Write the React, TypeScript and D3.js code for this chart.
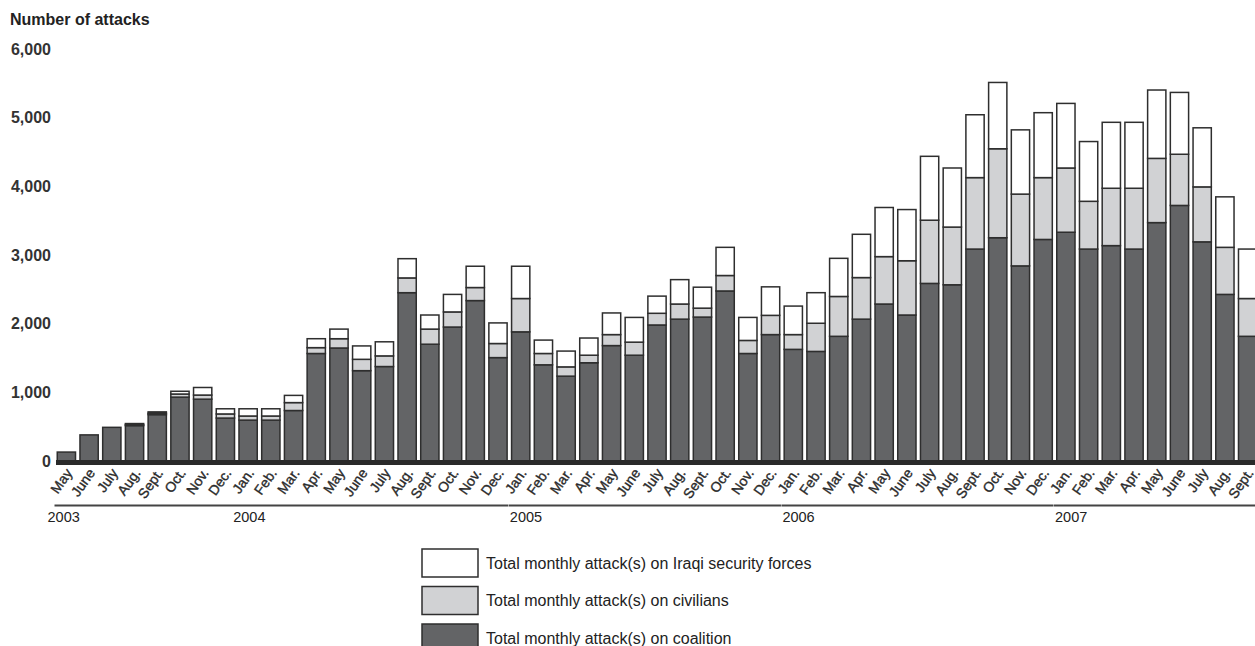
import React from "react";
import * as d3 from "d3";

const months = [
  "May", "June", "July", "Aug.", "Sept.", "Oct.", "Nov.", "Dec.",
  "Jan.", "Feb.", "Mar.", "Apr.", "May", "June", "July", "Aug.", "Sept.", "Oct.", "Nov.", "Dec.",
  "Jan.", "Feb.", "Mar.", "Apr.", "May", "June", "July", "Aug.", "Sept.", "Oct.", "Nov.", "Dec.",
  "Jan.", "Feb.", "Mar.", "Apr.", "May", "June", "July", "Aug.", "Sept.", "Oct.", "Nov.", "Dec.",
  "Jan.", "Feb.", "Mar.", "Apr.", "May", "June", "July", "Aug.", "Sept.",
];

const coalition = [
  130, 380, 490, 515, 675, 930, 900, 625,
  595, 595, 735, 1565, 1645, 1315, 1375, 2450, 1700, 1950, 2335, 1505,
  1880, 1400, 1235, 1430, 1680, 1540, 1980, 2065, 2095, 2475, 1565, 1840,
  1625, 1595, 1815, 2065, 2285, 2125, 2585, 2565, 3085, 3250, 2840, 3225,
  3330, 3085, 3135, 3085, 3470, 3720, 3190, 2425, 1815,
];

const civilians = [
  0, 0, 0, 15, 20, 45, 60, 60,
  60, 60, 115, 85, 135, 165, 155, 215, 220, 220, 190, 205,
  485, 165, 135, 110, 160, 190, 170, 220, 130, 225, 190, 280,
  215, 410, 580, 605, 690, 790, 920, 840, 1040, 1295, 1045, 900,
  935, 695, 835, 885, 935, 745, 800, 685, 550,
];

const security = [
  0, 0, 0, 15, 20, 40, 110, 75,
  105, 105, 105, 130, 140, 195, 205, 280, 205, 255, 310, 300,
  470, 195, 230, 250, 315, 360, 250, 355, 305, 410, 335, 415,
  415, 445, 555, 630, 715, 745, 930, 860, 915, 965, 935, 945,
  940, 870, 960, 960, 995, 900, 860, 735, 720,
];

const yearLabels = ["2003", "2004", "2005", "2006", "2007"];
const yearStart = [0, 8, 20, 32, 44];
// line segments (first index, last index)
const yearSegments = [[0, 19], [20, 31], [32, 43], [44, 52]];

const yTicks = [0, 1000, 2000, 3000, 4000, 5000, 6000];

const seriesKeys = ["coalition", "civilians", "security"];
const seriesLabels = [
  "Total monthly attack(s) on Iraqi security forces",
  "Total monthly attack(s) on civilians",
  "Total monthly attack(s) on coalition",
];

const COLORS: Record<string, string> = {
  coalition: "#636466",
  civilians: "#d1d2d4",
  security: "#ffffff",
};
const STROKE = "#2e2e2e";
const FONT = "'Liberation Sans', Arial, Helvetica, sans-serif";

export default function App() {
  const W = 1255;
  const H = 646;
  const idx = months.map((_, i) => i);
  const x = d3.scaleBand<number>().domain(idx).range([56.5, 1257.5]).paddingInner(0.13).paddingOuter(0);
  const y = d3.scaleLinear().domain([0, 6000]).range([461, 48.8]);

  const table = idx.map((i) => ({
    i,
    coalition: coalition[i],
    civilians: civilians[i],
    security: security[i],
  }));
  const stacked = d3.stack<any>().keys(seriesKeys)(table);

  const bw = x.bandwidth();

  return (
    <svg
      width={W}
      height={H}
      style={{ position: "absolute", left: 0, top: 0, display: "block", background: "#fff" }}
      fontFamily={FONT}
    >
      <text x={10} y={25} fontSize={16} fontWeight="bold" fill="#222">
        Number of attacks
      </text>

      {yTicks.map((t) => (
        <text
          key={t}
          x={51}
          y={y(t)}
          dy="0.36em"
          textAnchor="end"
          fontSize={16}
          fontWeight="bold"
          fill="#333"
        >
          {d3.format(",")(t)}
        </text>
      ))}

      {stacked.map((s) => (
        <g key={s.key}>
          {s.map((d: any, j: number) => {
            const h = y(d[0]) - y(d[1]);
            if (h <= 0) return null;
            return (
              <rect
                key={j}
                x={(x(j) as number) + 0.75}
                y={y(d[1])}
                width={bw - 1.5}
                height={h}
                fill={COLORS[s.key]}
                stroke={STROKE}
                strokeWidth={1.5}
              />
            );
          })}
        </g>
      ))}

      <rect x={56} y={460} width={W - 56} height={5} fill="#2a2a2a" />

      {months.map((m, i) => {
        const cx = (x(i) as number) + bw / 2 - 0.5;
        return (
          <text
            key={i}
            transform={`translate(${cx},${468}) rotate(-55)`}
            textAnchor="end"
            dy="0.62em"
            fontSize={14}
            fill="#2a2a2a"
            stroke="#2a2a2a"
            strokeWidth={0.35}
          >
            {m}
          </text>
        );
      })}

      {yearSegments.map(([a, b], k) => (
        <line
          key={k}
          x1={(x(a) as number) - 2}
          x2={Math.min((x(b) as number) + bw + 0.5, W)}
          y1={505.5}
          y2={505.5}
          stroke="#444"
          strokeWidth={2}
        />
      ))}

      {yearLabels.map((yl, k) => (
        <text
          key={yl}
          x={(x(yearStart[k]) as number) - (k === 0 ? 9 : k === 1 ? 5 : 1)}
          y={522}
          fontSize={14.5}
          fill="#222"
        >
          {yl}
        </text>
      ))}

      {seriesLabels.map((lab, k) => {
        const key = ["security", "civilians", "coalition"][k];
        const top = 549 + k * 37.5;
        return (
          <g key={lab}>
            <rect x={422} y={top} width={56} height={28} fill={COLORS[key]} stroke={STROKE} strokeWidth={1.5} />
            <text x={486} y={top + 14} dy="0.35em" fontSize={16} fill="#222">
              {lab}
            </text>
          </g>
        );
      })}
    </svg>
  );
}
